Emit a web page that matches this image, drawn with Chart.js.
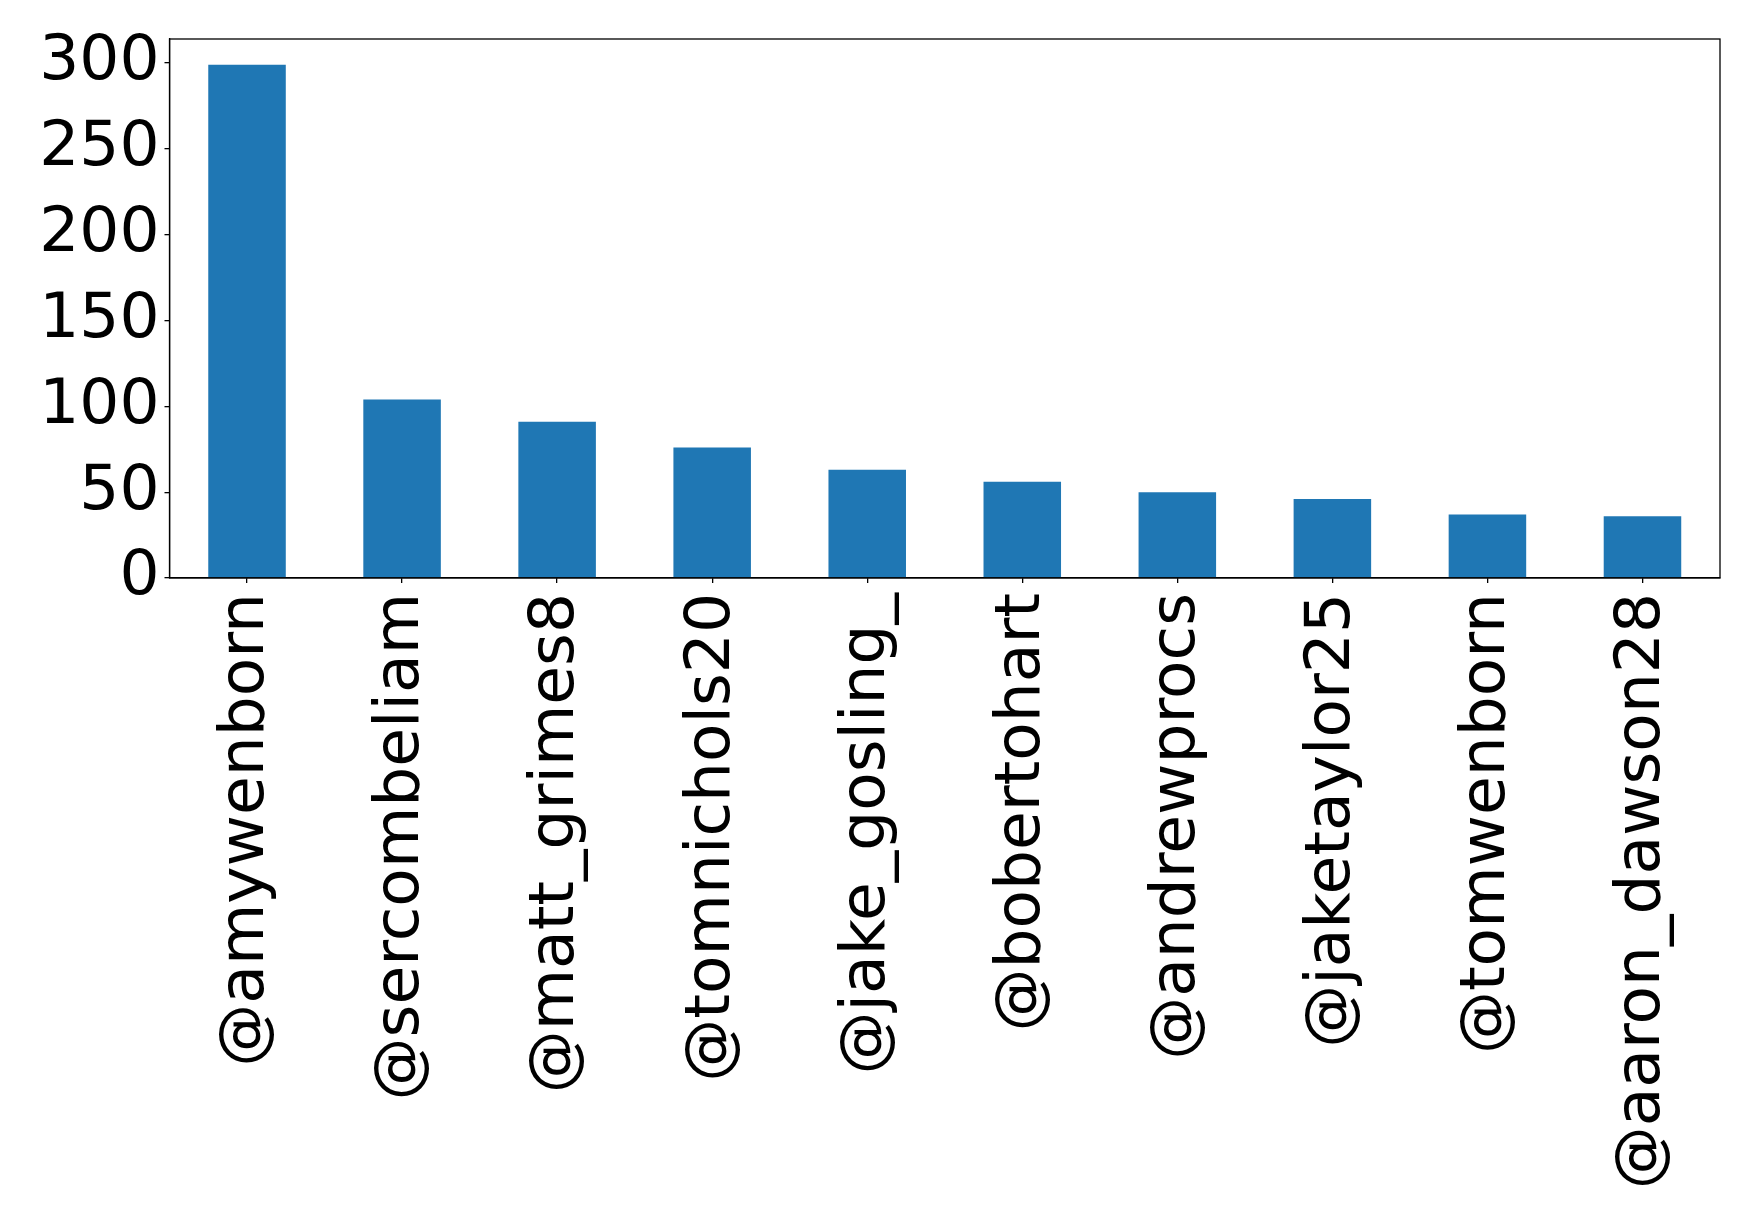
<!DOCTYPE html>
<html lang="en">
<head>
    <meta charset="UTF-8">
    <title>Top accounts</title>
    <script src="https://cdn.jsdelivr.net/npm/chart.js"></script>
    <style>
        html, body { margin: 0; padding: 0; background: #ffffff; }
        #wrap { width: 1759px; height: 1219px; }
    </style>
</head>
<body>
<div id="wrap">
    <canvas id="barChart" width="1759" height="1219"></canvas>
</div>

<script>
    // data
    const accounts = ['@amywenborn', '@sercombeliam', '@matt_grimes8', '@tomnichols20', '@jake_gosling_',
                      '@bobertohart', '@andrewprocs', '@jaketaylor25', '@tomwenborn', '@aaron_dawson28'];
    const counts = [299, 104, 91, 76, 63, 56, 50, 46, 37, 36];
    const yTicks = [0, 50, 100, 150, 200, 250, 300];

    const font = { family: "'DejaVu Sans', sans-serif", size: 63 };

    // matplotlib style box around the plot
    const frame = {
        id: 'frame',
        afterDraw(chart) {
            const a = chart.chartArea, c = chart.ctx;
            c.save();
            c.strokeStyle = '#000';
            c.lineWidth = 1.3;
            c.strokeRect(a.left, a.top, a.right - a.left, a.bottom - a.top);
            c.restore();
        }
    };

    new Chart(document.getElementById('barChart'), {
        type: 'bar',
        data: {
            labels: accounts,
            datasets: [{
                data: counts,
                backgroundColor: '#1f77b4',
                borderWidth: 0,
                categoryPercentage: 1.0,
                barPercentage: 0.5
            }]
        },
        options: {
            responsive: false,
            devicePixelRatio: 1,
            animation: false,
            layout: { padding: { top: 39, right: 39, bottom: 0, left: 0 } },
            plugins: { legend: { display: false }, tooltip: { enabled: false } },
            scales: {
                x: {
                    grid: { offset: false, drawOnChartArea: false, drawTicks: true, tickLength: 5, tickColor: '#000', lineWidth: 1.3 },
                    border: { color: '#000', width: 1.3 },
                    ticks: {
                        color: '#000', font: font, autoSkip: false,
                        maxRotation: 90, minRotation: 90, padding: 10
                    },
                    afterFit(scale) { scale.height = 1219 - 578; }
                },
                y: {
                    min: 0,
                    max: 314,
                    grid: { drawOnChartArea: false, drawTicks: true, tickLength: 5, tickColor: '#000', lineWidth: 1.3 },
                    border: { color: '#000', width: 1.3 },
                    ticks: { color: '#000', font: font, stepSize: 50, includeBounds: false, padding: 5 },
                    afterBuildTicks(scale) { scale.ticks = yTicks.map(v => ({ value: v })); },
                    afterFit(scale) {
                        scale.width = 169.5;
                        scale.paddingTop = 0;
                        scale.paddingBottom = 0;
                    }
                }
            }
        },
        plugins: [frame]
    });
</script>
</body>
</html>
